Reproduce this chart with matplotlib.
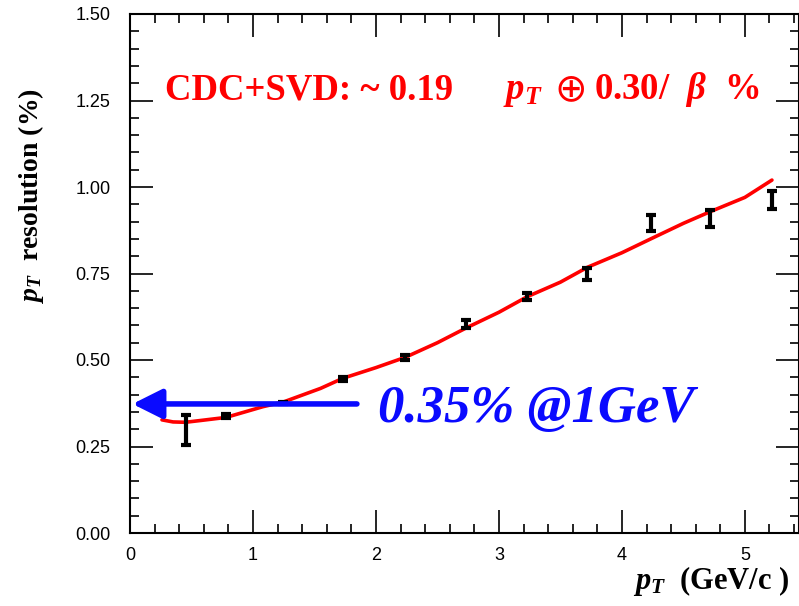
import matplotlib
matplotlib.use('Agg')
import matplotlib.pyplot as plt
from matplotlib.ticker import MultipleLocator, FormatStrFormatter

# measured points (pT in GeV/c, resolution in %)
pt = [0.455, 0.78, 1.245, 1.73, 2.24, 2.73, 3.23, 3.72, 4.24, 4.72, 5.22]
res = [0.297, 0.338, 0.376, 0.445, 0.508, 0.604, 0.683, 0.749, 0.896, 0.908, 0.962]
res_err = [0.043, 0.005, 0.004, 0.007, 0.007, 0.012, 0.011, 0.018, 0.024, 0.025, 0.025]

# fitted curve
fit_pt = [0.26, 0.35, 0.45, 0.57, 0.78, 1.08, 1.25, 1.55, 1.73, 2.0, 2.24, 2.5,
          2.73, 3.0, 3.23, 3.5, 3.72, 4.0, 4.24, 4.5, 4.72, 5.0, 5.22]
fit_res = [0.327, 0.321, 0.320, 0.325, 0.334, 0.365, 0.379, 0.418, 0.447, 0.478,
           0.508, 0.550, 0.592, 0.638, 0.683, 0.725, 0.768, 0.810, 0.851, 0.895,
           0.929, 0.970, 1.020]

# arrow marking the resolution at 1 GeV
arrow_from = (1.845, 0.373)
arrow_to = (0.02, 0.373)

plt.rcParams['mathtext.fontset'] = 'custom'
plt.rcParams['mathtext.rm'] = 'Liberation Serif:bold'
plt.rcParams['mathtext.it'] = 'Liberation Serif:bold:italic'
plt.rcParams['mathtext.bf'] = 'Liberation Serif:bold'

fig = plt.figure(figsize=(7.99, 6.06), dpi=100)
ax = fig.add_axes([130 / 799, 73 / 606, 669 / 799, 519 / 606])

ax.plot(fit_pt, fit_res, color='#ff0000', lw=2.6, zorder=2,
        solid_joinstyle='round', solid_capstyle='round')
ax.errorbar(pt, res, yerr=res_err, fmt='none', ecolor='black', elinewidth=3,
            capsize=3.6, capthick=3, zorder=3)

ax.annotate('', xy=arrow_to, xytext=arrow_from,
            arrowprops=dict(arrowstyle='-|>,head_length=0.9,head_width=0.45',
                            mutation_scale=20, color='#0a0aff', lw=4,
                            shrinkA=0, shrinkB=0), zorder=4)
ax.text(0.371, 0.216, '0.35% @1GeV', transform=ax.transAxes, color='#0a0aff',
        family='Liberation Serif', weight='bold', style='italic', fontsize=38,
        ha='left', va='baseline')

# red fit annotation
red_font = dict(transform=ax.transAxes, color='#ff0000', family='Liberation Serif',
                weight='bold', fontsize=26.5, ha='left', va='baseline')
ax.text(0.052, 0.836, 'CDC+SVD: ~ 0.19', **red_font)
ax.text(0.558, 0.836, r'$p_T$', **red_font)
ax.text(0.634, 0.834, '\u2295', transform=ax.transAxes, color='#ff0000',
        family='DejaVu Sans', fontsize=28, ha='left', va='baseline')
ax.text(0.693, 0.836, r'0.30/  $\beta$  %', **red_font)

ax.set_xlim(0, 5.44)
ax.set_ylim(0, 1.5)
ax.xaxis.set_major_locator(MultipleLocator(1))
ax.xaxis.set_minor_locator(MultipleLocator(0.2))
ax.yaxis.set_major_locator(MultipleLocator(0.25))
ax.yaxis.set_minor_locator(MultipleLocator(0.05))
ax.yaxis.set_major_formatter(FormatStrFormatter('%.2f'))
ax.xaxis.set_major_formatter(FormatStrFormatter('%d'))

ax.tick_params(which='both', direction='in', top=True, right=True, width=1.2,
               labelsize=13, colors='black')
ax.tick_params(which='major', length=16.5)
ax.tick_params(which='minor', length=6.5)
ax.tick_params(axis='y', pad=14)
ax.tick_params(axis='x', pad=10)
for lab in ax.get_xticklabels() + ax.get_yticklabels():
    lab.set_family('Liberation Sans')
for sp in ax.spines.values():
    sp.set_linewidth(1.5)

ax.set_ylabel(r'$p_T$  resolution (%)', family='Liberation Serif', weight='bold',
              fontsize=20)
ax.yaxis.set_label_coords(-0.125, 0.65)
ax.set_xlabel(r'$p_T$  (GeV/c )', family='Liberation Serif', weight='bold',
              fontsize=22, ha='right', va='top')
ax.xaxis.set_label_coords(0.985, -0.06)

fig.savefig('out.png', dpi=100)
